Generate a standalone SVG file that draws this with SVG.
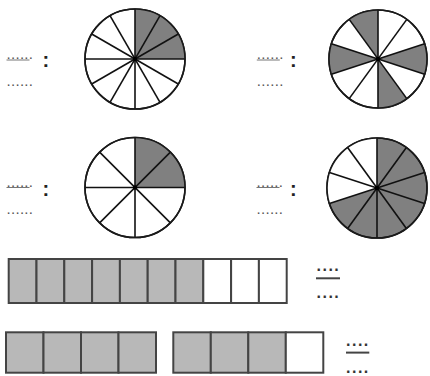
<svg xmlns="http://www.w3.org/2000/svg" width="430" height="376" viewBox="0 0 430 376">
<style>
.bg{fill:#fff}
.rim{fill:#fff;stroke:#1a1a1a;stroke-width:1.6}
.sh{fill:#808080;stroke:none}
.wh{fill:#fff;stroke:none}
.sp{stroke:#111;stroke-width:1.6;fill:none}
.ctr{fill:#000}
.rimo{fill:none;stroke:#1a1a1a;stroke-width:1.6}
.dots{font-family:"Liberation Sans",Arial,sans-serif;font-size:15px;fill:#555;letter-spacing:0.3px}
.colon{font-family:"Liberation Sans",Arial,sans-serif;font-size:20px;font-weight:bold;fill:#222}
.ul{stroke:#777;stroke-width:1}
.cell{fill:#b8b8b8;stroke:#444;stroke-width:2}
.cellw{fill:#fff;stroke:#444;stroke-width:2}
.fd{font-family:"Liberation Sans",Arial,sans-serif;font-size:16px;font-weight:bold;fill:#333;letter-spacing:1.5px}
.fbar{stroke:#444;stroke-width:2}
</style>
<rect class="bg" x="0" y="0" width="430" height="376"/>

<g id="circle1">
<circle class="rim" cx="135" cy="59" r="50"/>
<path class="sh" d="M135,59 L185,59 A50,50 0 0 0 135,9 Z"/>
<line class="sp" x1="85" y1="59" x2="185" y2="59"/>
<line class="sp" x1="178.3" y1="34" x2="91.7" y2="84"/>
<line class="sp" x1="160" y1="15.7" x2="110" y2="102.3"/>
<line class="sp" x1="135" y1="9" x2="135" y2="109"/>
<line class="sp" x1="110" y1="15.7" x2="160" y2="102.3"/>
<line class="sp" x1="91.7" y1="34" x2="178.3" y2="84"/>
<circle class="rimo" cx="135" cy="59" r="50"/>
<circle class="ctr" cx="135" cy="59" r="2.2"/>
</g>

<g id="circle2">
<circle class="rim" cx="378" cy="59" r="49"/>
<path class="sh" d="M378,59 L378,10 A49,49 0 0 0 349.2,19.36 Z"/>
<path class="sh" d="M378,59 L424.6,43.86 A49,49 0 0 1 424.6,74.14 Z"/>
<path class="sh" d="M378,59 L378,108 A49,49 0 0 0 406.8,98.64 Z"/>
<path class="sh" d="M378,59 L331.4,43.86 A49,49 0 0 0 331.4,74.14 Z"/>
<line class="sp" x1="424.6" y1="43.86" x2="331.4" y2="74.14"/>
<line class="sp" x1="406.8" y1="19.36" x2="349.2" y2="98.64"/>
<line class="sp" x1="378" y1="10" x2="378" y2="108"/>
<line class="sp" x1="349.2" y1="19.36" x2="406.8" y2="98.64"/>
<line class="sp" x1="331.4" y1="43.86" x2="424.6" y2="74.14"/>
<circle class="rimo" cx="378" cy="59" r="49"/>
<circle class="ctr" cx="378" cy="59" r="2.2"/>
</g>

<g id="circle3">
<circle class="rim" cx="135" cy="187.5" r="50"/>
<path class="sh" d="M135,187.5 L185,187.5 A50,50 0 0 0 135,137.5 Z"/>
<line class="sp" x1="85" y1="187.5" x2="185" y2="187.5"/>
<line class="sp" x1="170.36" y1="152.14" x2="99.64" y2="222.86"/>
<line class="sp" x1="135" y1="137.5" x2="135" y2="237.5"/>
<line class="sp" x1="99.64" y1="152.14" x2="170.36" y2="222.86"/>
<circle class="rimo" cx="135" cy="187.5" r="50"/>
<circle class="ctr" cx="135" cy="187.5" r="2.2"/>
</g>

<g id="circle4">
<circle class="rim" cx="377" cy="188" r="50" style="fill:#808080"/>
<path class="wh" d="M377,188 L377,138 A50,50 0 0 0 329.45,203.45 Z"/>
<line class="sp" x1="424.55" y1="172.55" x2="329.45" y2="203.45"/>
<line class="sp" x1="406.39" y1="147.55" x2="347.61" y2="228.45"/>
<line class="sp" x1="377" y1="138" x2="377" y2="238"/>
<line class="sp" x1="347.61" y1="147.55" x2="406.39" y2="228.45"/>
<line class="sp" x1="329.45" y1="172.55" x2="424.55" y2="203.45"/>
<circle class="rimo" cx="377" cy="188" r="50"/>
<circle class="ctr" cx="377" cy="188" r="2.2"/>
</g>

<g id="label1">
<text class="dots" x="6.5" y="59">......</text>
<line class="ul" x1="6.5" y1="60" x2="29.5" y2="60"/>
<text class="colon" x="42.5" y="67.2">:</text>
<text class="dots" x="6.5" y="85.5">......</text>
</g>
<g id="label2">
<text class="dots" x="256.8" y="59">......</text>
<line class="ul" x1="256.8" y1="60" x2="279.8" y2="60"/>
<text class="colon" x="290" y="67.2">:</text>
<text class="dots" x="256.8" y="85.5">......</text>
</g>
<g id="label3">
<text class="dots" x="6.5" y="186.5">......</text>
<line class="ul" x1="6.5" y1="187.5" x2="29.5" y2="187.5"/>
<text class="colon" x="42.5" y="195.5">:</text>
<text class="dots" x="6.5" y="213.5">......</text>
</g>
<g id="label4">
<text class="dots" x="256.5" y="186.5">......</text>
<line class="ul" x1="256.5" y1="187.5" x2="279.5" y2="187.5"/>
<text class="colon" x="290" y="195.5">:</text>
<text class="dots" x="256.5" y="213.5">......</text>
</g>

<g id="bar1">
<rect class="cell" x="8.7" y="259" width="27.8" height="44"/>
<rect class="cell" x="36.5" y="259" width="27.8" height="44"/>
<rect class="cell" x="64.3" y="259" width="27.8" height="44"/>
<rect class="cell" x="92.1" y="259" width="27.8" height="44"/>
<rect class="cell" x="119.9" y="259" width="27.8" height="44"/>
<rect class="cell" x="147.7" y="259" width="27.8" height="44"/>
<rect class="cell" x="175.5" y="259" width="27.8" height="44"/>
<rect class="cellw" x="203.3" y="259" width="27.8" height="44"/>
<rect class="cellw" x="231.1" y="259" width="27.8" height="44"/>
<rect class="cellw" x="258.9" y="259" width="27.8" height="44"/>
</g>
<g id="fraction1">
<text class="fd" x="316.5" y="270.5">....</text>
<line class="fbar" x1="316" y1="278.3" x2="340" y2="278.3"/>
<text class="fd" x="316.5" y="298">....</text>
</g>

<g id="bar2">
<rect class="cell" x="6" y="332.3" width="37.5" height="40.4"/>
<rect class="cell" x="43.5" y="332.3" width="37.5" height="40.4"/>
<rect class="cell" x="81" y="332.3" width="37.5" height="40.4"/>
<rect class="cell" x="118.5" y="332.3" width="37.5" height="40.4"/>
</g>
<g id="bar3">
<rect class="cell" x="173.3" y="332.3" width="37.5" height="40.4"/>
<rect class="cell" x="210.8" y="332.3" width="37.5" height="40.4"/>
<rect class="cell" x="248.3" y="332.3" width="37.5" height="40.4"/>
<rect class="cellw" x="285.8" y="332.3" width="37.5" height="40.4"/>
</g>
<g id="fraction2">
<text class="fd" x="346" y="345.5">....</text>
<line class="fbar" x1="346" y1="352.6" x2="369.3" y2="352.6"/>
<text class="fd" x="346" y="373">....</text>
</g>
</svg>
